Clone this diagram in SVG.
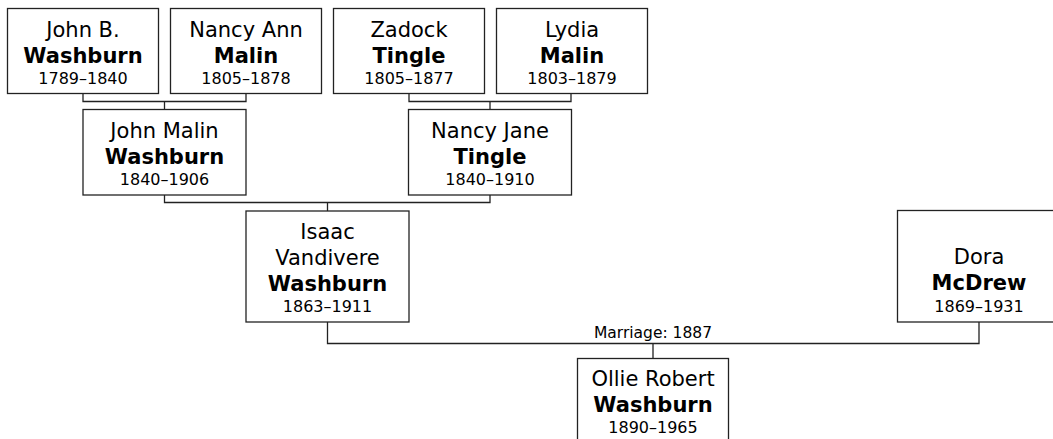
<svg xmlns="http://www.w3.org/2000/svg" width="1053" height="439" viewBox="0 0 1053 439">
<style>
.box{fill:#fff;stroke:#222;stroke-width:1.3}
.ln{fill:none;stroke:#222;stroke-width:1.3}
text{font-family:"DejaVu Sans","Liberation Sans",sans-serif;fill:#000;text-anchor:middle}
.g{font-size:21px}
.s{font-size:21px;font-weight:bold}
.d{font-size:16px}
.m{font-size:15.5px}
</style>
<rect width="1053" height="439" fill="#fff"/>
<g id="connectors">
<path class="ln" d="M83,94V101.5H246V94M164.5,101.5V109"/>
<path class="ln" d="M409,94V101.5H571V94M490,101.5V109"/>
<path class="ln" d="M164.5,195V202.5H490V195M327.5,202.5V211"/>
<path class="ln" d="M327.5,322V343.5H979V322M653,343.5V358"/>
<text class="m" x="653" y="338">Marriage: 1887</text>
</g>
<g id="john-b-washburn">
<rect class="box" x="7.5" y="8.5" width="151" height="85"/>
<text class="g" x="83" y="37">John B.</text>
<text class="s" x="83" y="63">Washburn</text>
<text class="d" x="83" y="83.5">1789–1840</text>
</g>
<g id="nancy-ann-malin">
<rect class="box" x="170.5" y="8.5" width="151" height="85"/>
<text class="g" x="246" y="37">Nancy Ann</text>
<text class="s" x="246" y="63">Malin</text>
<text class="d" x="246" y="83.5">1805–1878</text>
</g>
<g id="zadock-tingle">
<rect class="box" x="333.5" y="8.5" width="151" height="85"/>
<text class="g" x="409" y="37">Zadock</text>
<text class="s" x="409" y="63">Tingle</text>
<text class="d" x="409" y="83.5">1805–1877</text>
</g>
<g id="lydia-malin">
<rect class="box" x="496.5" y="8.5" width="151" height="85"/>
<text class="g" x="572" y="37">Lydia</text>
<text class="s" x="572" y="63">Malin</text>
<text class="d" x="572" y="83.5">1803–1879</text>
</g>
<g id="john-malin-washburn">
<rect class="box" x="83" y="109.5" width="163" height="85.5"/>
<text class="g" x="164.5" y="138.3">John Malin</text>
<text class="s" x="164.5" y="164.3">Washburn</text>
<text class="d" x="164.5" y="185">1840–1906</text>
</g>
<g id="nancy-jane-tingle">
<rect class="box" x="408.5" y="109.5" width="163" height="85.5"/>
<text class="g" x="490" y="138.3">Nancy Jane</text>
<text class="s" x="490" y="164.3">Tingle</text>
<text class="d" x="490" y="185">1840–1910</text>
</g>
<g id="isaac-vandivere-washburn">
<rect class="box" x="246" y="211" width="163" height="111"/>
<text class="g" x="327.5" y="239">Isaac</text>
<text class="g" x="327.5" y="265">Vandivere</text>
<text class="s" x="327.5" y="290.7">Washburn</text>
<text class="d" x="327.5" y="311.7">1863–1911</text>
</g>
<g id="dora-mcdrew">
<rect class="box" x="897.5" y="210.5" width="163" height="111.5"/>
<text class="g" x="979" y="264">Dora</text>
<text class="s" x="979" y="290">McDrew</text>
<text class="d" x="979" y="311.7">1869–1931</text>
</g>
<g id="ollie-robert-washburn">
<rect class="box" x="577.5" y="358.5" width="151" height="100"/>
<text class="g" x="653" y="386">Ollie Robert</text>
<text class="s" x="653" y="411.7">Washburn</text>
<text class="d" x="653" y="432.7">1890–1965</text>
</g>
</svg>
